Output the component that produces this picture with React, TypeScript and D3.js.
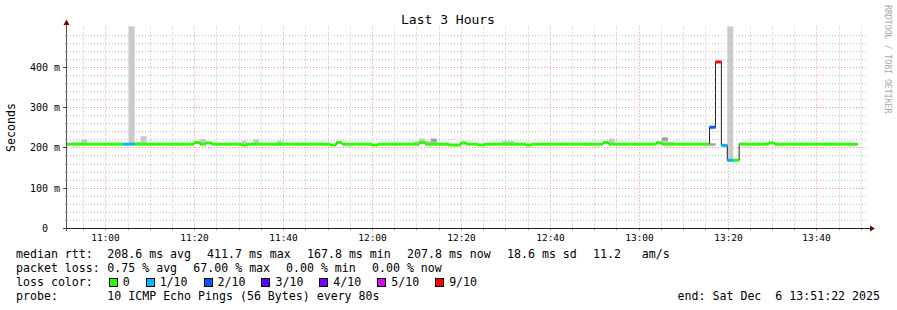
import React from "react";
import * as d3 from "d3";

// ---------------- data ----------------
const END_TIME = new Date(2025, 11, 6, 13, 51, 22);
const SPAN_SECONDS = 3 * 3600;
const STEP_SECONDS = 80;
const STEP_OFFSET_SECONDS = -46; // first RRD step starts slightly before the window

// median round trip time per 80 s step (ms)
const medianMs = [
  208, 208, 208, 208, 208, 208, 208, 208, 208, 208,
  208, 208, 208, 208, 208, 208, 208, 208, 208, 208,
  208, 208, 212, 208, 211, 208, 208, 208, 208, 208,
  206, 208, 208, 208, 208, 208, 208, 208, 208, 208,
  208, 208, 208, 208, 208, 206, 212, 208, 208, 208,
  208, 208, 206, 208, 208, 208, 208, 208, 208, 208,
  212, 208, 208, 208, 208, 206, 206, 211, 208, 208,
  206, 208, 208, 208, 208, 208, 208, 208, 206, 208,
  208, 208, 208, 208, 208, 208, 208, 208, 208, 208,
  208, 212, 208, 208, 208, 208, 208, 208, 208, 208,
  211, 208, 208, 208, 208, 208, 208, 208, 208, 250,
  412, 205, 168, 168, 208, 208, 208, 208, 208, 211,
  208, 208, 208, 208, 208, 208, 208, 208, 208, 208,
  208, 208, 208, 208,
];

// lost pings out of 10 per step
const lossPings = [
  0, 0, 0, 0, 0, 0, 0, 0, 0, 0,
  1, 1, 0, 0, 0, 0, 0, 0, 0, 0,
  0, 0, 0, 0, 0, 0, 0, 0, 0, 0,
  0, 0, 0, 0, 0, 0, 0, 0, 0, 0,
  0, 0, 0, 0, 0, 0, 0, 0, 0, 0,
  0, 0, 0, 0, 0, 0, 0, 0, 0, 0,
  0, 0, 0, 0, 0, 0, 0, 0, 0, 0,
  0, 0, 0, 0, 0, 0, 0, 0, 0, 0,
  0, 0, 0, 0, 0, 0, 0, 0, 0, 0,
  0, 0, 0, 0, 0, 0, 0, 0, 0, 0,
  0, 0, 0, 0, 0, 0, 0, 0, 0, 2,
  6.7, 1, 1, 0, 0, 0, 0, 0, 0, 0,
  0, 0, 0, 0, 0, 0, 0, 0, 0, 0,
  0, 0, 0, 0,
];

// smoke (spread of individual pings): top and bottom per step (ms)
const smokeHiMs = [
  208, 212, 212, 220, 208, 208, 208, 208, 208, 208,
  210, 1200, 213, 228, 208, 208, 208, 208, 208, 208,
  208, 208, 212, 221, 211, 208, 208, 208, 208, 208,
  217, 208, 220, 208, 208, 208, 217, 208, 208, 208,
  208, 208, 208, 208, 208, 206, 212, 208, 208, 208,
  208, 208, 206, 208, 208, 208, 208, 208, 208, 215,
  222, 216, 216, 208, 208, 206, 206, 211, 208, 208,
  206, 208, 208, 208, 217, 217, 208, 208, 206, 208,
  208, 208, 208, 208, 208, 208, 208, 208, 208, 208,
  208, 212, 222, 208, 208, 208, 208, 208, 208, 208,
  216, 216, 214, 208, 208, 208, 208, 208, 208, 210,
  412, 209, 1200, 168, 212, 208, 208, 208, 212, 214,
  208, 208, 208, 208, 208, 208, 208, 208, 208, 208,
  208, 208, 208, 208,
];
const smokeLoMs = [
  206, 206, 206, 206, 206, 206, 206, 206, 206, 206,
  206, 206, 206, 206, 206, 206, 206, 206, 206, 206,
  206, 206, 210, 206, 209, 206, 206, 206, 206, 206,
  204, 206, 206, 206, 206, 206, 206, 206, 206, 206,
  206, 206, 206, 206, 206, 204, 210, 206, 206, 206,
  206, 206, 204, 206, 206, 206, 206, 206, 206, 206,
  210, 206, 206, 206, 206, 204, 204, 209, 206, 206,
  204, 206, 206, 206, 206, 206, 206, 206, 204, 206,
  206, 206, 206, 206, 206, 206, 206, 206, 206, 206,
  206, 210, 206, 206, 206, 206, 206, 206, 206, 206,
  209, 206, 206, 206, 206, 206, 206, 206, 206, 203,
  410, 203, 167, 166, 206, 206, 206, 206, 206, 209,
  206, 206, 206, 206, 206, 206, 206, 206, 206, 206,
  206, 206, 206, 206,
];
// denser smoke (several pings overlapping)
const darkSmokeStep = [62, 101, 109];
const darkSmokeHiMs = [222, 225, 210];
const darkSmokeLoMs = [214, 216, 205];

const yMaxMs = 500;
const yMajorTicks = [0, 100, 200, 300, 400];
const yTickLabels = ["0  ", "100 m", "200 m", "300 m", "400 m"];
const yMinorStepMs = 20;

const lossBucketMax = [0, 1, 2, 3, 4, 5, 10];
const lossLabels = ["0", "1/10", "2/10", "3/10", "4/10", "5/10", "9/10"];
const lossColors = ["#26ff00", "#00b8ff", "#0059ff", "#5e00ff", "#7e00ff", "#dd00ff", "#ff0000"];

const titleText = "Last 3 Hours";
const yTitle = "Seconds";
const watermark = "RRDTOOL / TOBI OETIKER";
const rttLabel = "median rtt:";
const rttStats = ["208.6 ms avg", "411.7 ms max", "167.8 ms min", "207.8 ms now", "18.6 ms sd", "11.2   am/s"];
const pktLabel = "packet loss:";
const pktStats = ["0.75 % avg", "67.00 % max", "0.00 % min", "0.00 % now"];
const colorLabel = "loss color:";
const probeLabel = "probe:";
const probeText = "10 ICMP Echo Pings (56 Bytes) every 80s";
const endText = "end: Sat Dec  6 13:51:22 2025";

// ---------------- layout ----------------
const W = 897;
const H = 310;
const PL = 67, PR = 867, PT = 26.5, PB = 228;
const FONT = "'DejaVu Sans Mono', monospace";
const LEG_FS = 11.6;
const CHAR_W = LEG_FS * 0.602;
const rttX = [107.3, 207, 307, 407, 507, 593];
const pktX = [107.3, 193.3, 286, 372];
const LEG_Y = [258, 272, 286, 300];

const MINOR = "#bdbdbd";
const MAJOR = "#ee9090";
const DASH = "1,2";
const ARROW = "#7f0000";

export default function App() {
  const START = new Date(END_TIME.getTime() - SPAN_SECONDS * 1000);
  const x = d3.scaleTime().domain([START, END_TIME]).range([PL, PR]);
  const y = d3.scaleLinear().domain([0, yMaxMs]).range([PB, PT]);

  const firstStep = START.getTime() + STEP_OFFSET_SECONDS * 1000;
  const steps = medianMs.map((m, i) => {
    const t0 = new Date(firstStep + i * STEP_SECONDS * 1000);
    const t1 = new Date(firstStep + (i + 1) * STEP_SECONDS * 1000);
    const loss = lossPings[i];
    let bucket = lossBucketMax.findIndex((b) => loss <= b);
    if (bucket < 0) bucket = lossBucketMax.length - 1;
    return { t0, t1, median: m, loss, bucket, hi: smokeHiMs[i], lo: smokeLoMs[i] };
  });

  const minorTimes = d3.timeMinute.every(5)!.range(START, END_TIME);
  const majorTimes = d3.timeMinute.every(20)!.range(START, END_TIME);
  const fmt = d3.timeFormat("%H:%M");
  const crisp = (v: number) => Math.round(v) + 0.5;

  const yMinor = d3.range(yMinorStepMs, yMaxMs, yMinorStepMs).filter((v) => v % 100 !== 0);
  const yMajor = yMajorTicks.filter((v) => v > 0);

  const lineData: [Date, number][] = steps.map((s) => [s.t0, s.median]);
  const last = steps[steps.length - 1];
  lineData.push([last.t1, last.median]);
  const medianPath = d3
    .line<[Date, number]>()
    .x((d) => x(d[0]))
    .y((d) => y(d[1]))
    .curve(d3.curveStepAfter)(lineData) as string;

  // legend color items
  let lx = 108.7;
  const colorItems = lossLabels.map((lab, i) => {
    const item = { bx: lx, tx: lx + 14, lab, color: lossColors[i] };
    lx += 14 + lab.length * CHAR_W + 2 * CHAR_W + 2;
    return item;
  });

  const bandH = 3;

  return (
    <svg
      width={W}
      height={H}
      viewBox={`0 0 ${W} ${H}`}
      style={{ position: "absolute", left: 0, top: 0, display: "block", background: "#fff" }}
      fontFamily={FONT}
    >
      <defs>
        <clipPath id="plotclip">
          <rect x={PL} y={PT} width={PR - PL} height={PB - PT} />
        </clipPath>
      </defs>
      <rect x={0} y={0} width={W} height={H} fill="#fff" />

      {/* grid */}
      {yMinor.map((v) => (
        <line key={"ym" + v} x1={PL} x2={PR} y1={crisp(y(v))} y2={crisp(y(v))} stroke={MINOR} strokeDasharray={DASH} />
      ))}
      {minorTimes
        .filter((t) => t.getMinutes() % 20 !== 0)
        .map((t) => (
          <line key={"xm" + t.getTime()} x1={crisp(x(t))} x2={crisp(x(t))} y1={PT} y2={PB} stroke={MINOR} strokeDasharray={DASH} />
        ))}
      {yMajor.map((v) => (
        <line key={"yM" + v} x1={PL} x2={PR} y1={crisp(y(v))} y2={crisp(y(v))} stroke={MAJOR} strokeDasharray={DASH} />
      ))}
      {majorTimes.map((t) => (
        <line key={"xM" + t.getTime()} x1={crisp(x(t))} x2={crisp(x(t))} y1={PT} y2={PB} stroke={MAJOR} strokeDasharray={DASH} />
      ))}

      {/* data */}
      <g clipPath="url(#plotclip)">
        {steps.map((s, i) =>
          s.hi > s.lo ? (
            <rect
              key={"s" + i}
              x={x(s.t0)}
              width={x(s.t1) - x(s.t0)}
              y={y(s.hi)}
              height={y(s.lo) - y(s.hi)}
              fill="#cacaca"
            />
          ) : null
        )}
        {darkSmokeStep.map((si, k) => {
          const s = steps[si];
          return (
            <rect
              key={"d" + k}
              x={x(s.t0)}
              width={x(s.t1) - x(s.t0)}
              y={y(darkSmokeHiMs[k])}
              height={y(darkSmokeLoMs[k]) - y(darkSmokeHiMs[k])}
              fill="#a2a2a2"
            />
          );
        })}
        <path d={medianPath} fill="none" stroke="#202020" strokeWidth={1} />
        {steps.map((s, i) => (
          <rect
            key={"m" + i}
            x={x(s.t0)}
            width={x(s.t1) - x(s.t0)}
            y={y(s.median) - bandH / 2}
            height={bandH}
            fill={lossColors[s.bucket]}
          />
        ))}
      </g>

      {/* axes */}
      <line x1={PL - 0.5} x2={PL - 0.5} y1={PB + 3} y2={22} stroke="#505050" />
      <line x1={PL - 4} x2={PR + 3} y1={PB + 0.5} y2={PB + 0.5} stroke="#202020" />
      <path d={`M${PL - 0.5},19.5 L${PL - 3.5},25 L${PL + 2.5},25 Z`} fill={ARROW} />
      <path d={`M${PR + 8},${PB + 0.5} L${PR + 3},${PB - 2.5} L${PR + 3},${PB + 3.5} Z`} fill={ARROW} />

      {/* y ticks */}
      {yMajorTicks.map((v) => (
        <line key={"yt" + v} x1={PL - 4} x2={PL} y1={crisp(y(v))} y2={crisp(y(v))} stroke="#404040" />
      ))}
      {yMinor.map((v) => (
        <line key={"ytm" + v} x1={PL - 2} x2={PL} y1={crisp(y(v))} y2={crisp(y(v))} stroke="#909090" />
      ))}
      {yMajorTicks.map((v, i) => (
        <text
          key={"yl" + v}
          x={60}
          y={crisp(y(v)) + 3.5}
          fontSize={10}
          textAnchor="end"
          fill="#000"
          xmlSpace="preserve"
          style={{ whiteSpace: "pre" }}
        >
          {yTickLabels[i]}
        </text>
      ))}

      {/* x ticks */}
      {minorTimes.map((t) => (
        <line key={"xt" + t.getTime()} x1={crisp(x(t))} x2={crisp(x(t))} y1={PB + 1} y2={PB + 3} stroke={t.getMinutes() % 20 === 0 ? MAJOR : MINOR} />
      ))}
      {majorTimes.map((t) => (
        <text key={"xl" + t.getTime()} x={crisp(x(t))} y={241} fontSize={9.5} textAnchor="middle" fill="#000">
          {fmt(t)}
        </text>
      ))}

      {/* titles */}
      <text x={448} y={24} fontSize={13} textAnchor="middle" fill="#000">
        {titleText}
      </text>
      <text transform="translate(15,127.5) rotate(-90)" fontSize={LEG_FS} textAnchor="middle" fill="#000">
        {yTitle}
      </text>
      <text transform="translate(884.5,5) rotate(90)" fontSize={8.2} fill="#a8a8a8">
        {watermark}
      </text>

      {/* legend */}
      <g fontSize={LEG_FS} fill="#000" style={{ whiteSpace: "pre" }}>
        <text x={16} y={LEG_Y[0]}>{rttLabel}</text>
        {rttStats.map((s, i) => (
          <text key={"r" + i} x={rttX[i]} y={LEG_Y[0]} xmlSpace="preserve" style={{ whiteSpace: "pre" }}>
            {s}
          </text>
        ))}
        <text x={16} y={LEG_Y[1]}>{pktLabel}</text>
        {pktStats.map((s, i) => (
          <text key={"p" + i} x={pktX[i]} y={LEG_Y[1]} xmlSpace="preserve" style={{ whiteSpace: "pre" }}>
            {s}
          </text>
        ))}
        <text x={16} y={LEG_Y[2]}>{colorLabel}</text>
        {colorItems.map((c, i) => (
          <g key={"c" + i}>
            <rect x={Math.round(c.bx) + 0.5} y={278.5} width={8} height={8} fill={c.color} stroke="#000" />
            <text x={c.tx} y={LEG_Y[2]}>{c.lab}</text>
          </g>
        ))}
        <text x={16} y={LEG_Y[3]}>{probeLabel}</text>
        <text x={107.3} y={LEG_Y[3]}>{probeText}</text>
        <text x={880} y={LEG_Y[3]} textAnchor="end" xmlSpace="preserve" style={{ whiteSpace: "pre" }}>
          {endText}
        </text>
      </g>
    </svg>
  );
}
